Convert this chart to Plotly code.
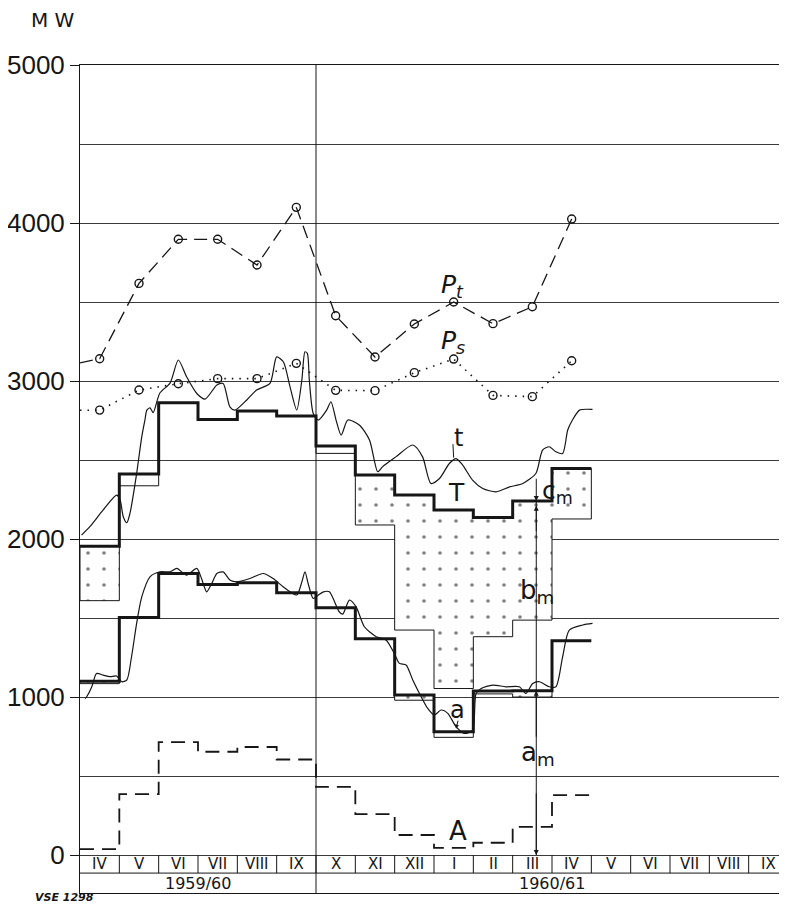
import plotly.graph_objects as go

# ---------------- data ----------------
months = ["IV", "V", "VI", "VII", "VIII", "IX", "X", "XI", "XII", "I", "II", "III",
          "IV", "V", "VI", "VII", "VIII", "IX"]
years = ["1959/60", "1960/61"]
year_first_month = [0, 6]          # index of first month of each year block
year_last_month = [5, 17]

# monthly values, IV 1959/60 ... IV 1960/61 (13 months)
Pt = [3141, 3618, 3897, 3897, 3734, 4099, 3413, 3152, 3361, 3500, 3363, 3470, 4025]
Pt_start = 3115
Ps = [2816, 2943, 2983, 3015, 3015, 3112, 2941, 2939, 3053, 3139, 2909, 2901, 3128]
Ps_start = 2815
T = [1955, 2411, 2862, 2757, 2811, 2778, 2589, 2405, 2278, 2184, 2137, 2241, 2447]
T_low = [1610, 2337, None, None, None, None, 2542, 2089, 1424, 1054, 1382, 1487, 2127]
a_step = [1100, 1504, 1782, 1712, 1723, 1660, 1565, 1369, 1013, 780, 1038, 1040, 1356]
a_low = [1085, None, None, None, None, None, None, None, 980, 745, 1020, 1000, None]
A = [38, 386, 715, 654, 684, 605, 432, 259, 127, 46, 78, 179, 380]

# daily-type curves (month position, MW)
t_x = [0.04, 0.25, 0.59, 0.93, 1.02, 1.10, 1.19, 1.27, 1.44, 1.57, 1.65, 1.70, 1.78, 1.86,
       2.03, 2.29, 2.50, 2.71, 2.97, 3.18, 3.48, 3.64, 3.81, 3.94, 4.24, 4.49, 4.83, 5.00,
       5.17, 5.34, 5.51, 5.64, 5.72, 5.78, 5.83, 5.93, 6.06, 6.27, 6.38, 6.51, 6.64, 6.81,
       7.10, 7.36, 7.57, 7.69, 8.03, 8.46, 8.71, 8.92, 9.14, 9.39, 9.56, 9.73, 9.98, 10.24,
       10.58, 10.92, 11.26, 11.59, 11.76, 11.93, 12.10, 12.27, 12.40, 12.52, 12.70, 13.03]
t_y = [2025, 2078, 2184, 2278, 2247, 2141, 2103, 2162, 2415, 2647, 2753, 2816, 2830, 2800,
       2924, 2987, 3133, 3027, 2921, 2886, 2975, 2985, 2837, 2816, 2880, 2943, 2985, 3153,
       3122, 2963, 2816, 3006, 3185, 3175, 3006, 2795, 2753, 2816, 2869, 2753, 2658, 2753,
       2722, 2627, 2426, 2457, 2520, 2595, 2520, 2352, 2383, 2478, 2509, 2468, 2373, 2320,
       2299, 2330, 2352, 2415, 2563, 2584, 2552, 2541, 2690, 2753, 2816, 2820]
a_x = [0.13, 0.17, 0.30, 0.42, 0.59, 0.76, 0.93, 1.06, 1.19, 1.31, 1.44, 1.57, 1.78, 2.03,
       2.29, 2.46, 2.71, 2.97, 3.09, 3.22, 3.35, 3.48, 3.64, 3.81, 3.98, 4.32, 4.66, 4.91,
       5.17, 5.51, 5.64, 5.72, 5.80, 5.93, 6.06, 6.19, 6.34, 6.59, 6.68, 6.85, 7.02, 7.23,
       7.53, 7.78, 7.99, 8.12, 8.29, 8.46, 8.63, 8.84, 9.01, 9.18, 9.35, 9.56, 9.77, 9.98,
       10.07, 10.20, 10.49, 10.83, 11.17, 11.34, 11.51, 11.68, 11.93, 12.10, 12.27, 12.44,
       12.78, 13.03]
a_y = [990, 1002, 1065, 1149, 1139, 1129, 1133, 1097, 1108, 1255, 1466, 1634, 1761, 1793,
       1793, 1814, 1772, 1814, 1750, 1666, 1719, 1782, 1792, 1741, 1729, 1750, 1782, 1750,
       1697, 1646, 1729, 1793, 1719, 1624, 1646, 1666, 1666, 1540, 1525, 1614, 1571, 1445,
       1382, 1361, 1276, 1213, 1203, 1108, 1023, 928, 886, 918, 897, 813, 770, 791,
       1023, 1054, 1076, 1065, 1065, 1023, 1086, 1097, 1065, 1065, 1255, 1424,
       1456, 1466]

ARROW_MONTH = 11                  # the III column carries the a_m / b_m / c_m dimension

# ---------------- helpers ----------------
n = len(T)
centres = [i + 0.5 for i in range(n)]
step_x = list(range(n)) + [n]


def step_y(vals):
    return list(vals) + [vals[-1]]


def box_polygons(top, low):
    groups, cur = [], []
    for i, v in enumerate(low):
        if v is None:
            if cur:
                groups.append(cur)
                cur = []
        else:
            cur.append(i)
    if cur:
        groups.append(cur)
    polys = []
    for g in groups:
        xs, ys = [], []
        for i in g:
            xs += [i, i + 1]
            ys += [top[i], top[i]]
        for i in reversed(g):
            xs += [i + 1, i]
            ys += [low[i], low[i]]
        xs.append(xs[0])
        ys.append(ys[0])
        polys.append((xs, ys))
    return polys


INK = "#161616"
FONT = "DejaVu Sans"
fig = go.Figure()

pattern = dict(shape=".", fgcolor="#000000", bgcolor="white", size=16, solidity=0.04)
for xs, ys in box_polygons(T, T_low) + box_polygons(a_step, a_low):
    fig.add_trace(go.Scatter(x=xs, y=ys, mode="lines", fill="toself", fillpattern=pattern,
                             fillcolor="white", line=dict(color=INK, width=1),
                             hoverinfo="skip"))

# P_t and P_s
fig.add_trace(go.Scatter(x=[0] + centres, y=[Pt_start] + Pt, mode="lines",
                         line=dict(color=INK, width=1.3, dash="13px,7px")))
fig.add_trace(go.Scatter(x=centres, y=Pt, mode="markers",
                         marker=dict(symbol="circle-open", size=8, color=INK,
                                     line=dict(width=1.4, color=INK))))
fig.add_trace(go.Scatter(x=[0] + centres, y=[Ps_start] + Ps, mode="lines",
                         line=dict(color=INK, width=1.6, dash="1.5px,6px")))
fig.add_trace(go.Scatter(x=centres, y=Ps, mode="markers",
                         marker=dict(symbol="circle-open", size=8, color=INK,
                                     line=dict(width=1.4, color=INK))))

# curves t and a
fig.add_trace(go.Scatter(x=t_x, y=t_y, mode="lines", line_shape="spline",
                         line=dict(color=INK, width=1.2, smoothing=0.7)))
fig.add_trace(go.Scatter(x=a_x, y=a_y, mode="lines", line_shape="spline",
                         line=dict(color=INK, width=1.2, smoothing=0.7)))

# step lines T, a and A
fig.add_trace(go.Scatter(x=step_x, y=step_y(T), mode="lines", line_shape="hv",
                         line=dict(color=INK, width=3)))
fig.add_trace(go.Scatter(x=step_x, y=step_y(a_step), mode="lines", line_shape="hv",
                         line=dict(color=INK, width=3)))
fig.add_trace(go.Scatter(x=step_x, y=step_y(A), mode="lines", line_shape="hv",
                         line=dict(color=INK, width=1.8, dash="14px,8px")))

# dimension line in the III column
xm = ARROW_MONTH + 0.6
fig.add_trace(go.Scatter(x=[xm, xm], y=[0, T[ARROW_MONTH]], mode="lines",
                         line=dict(color=INK, width=1)))

shapes = []
# table: separator between month row and year row
shapes.append(dict(type="line", xref="paper", yref="y", x0=0, x1=1, y0=-114, y1=-114,
                   line=dict(color=INK, width=1)))
for i in range(1, len(months)):
    shapes.append(dict(type="line", xref="x", yref="y", x0=i, x1=i, y0=-114, y1=0,
                       line=dict(color=INK, width=1)))
for f in year_first_month[1:]:
    shapes.append(dict(type="line", xref="x", yref="paper", x0=f, x1=f, y0=0, y1=1,
                       line=dict(color=INK, width=1)))

ann = []
for i, m in enumerate(months):
    ann.append(dict(x=i + 0.5, y=-57, xref="x", yref="y", text=m, showarrow=False,
                    font=dict(family=FONT, size=15, color=INK)))
for yname, f, l in zip(years, year_first_month, year_last_month):
    ann.append(dict(x=(f + l + 1) / 2, y=-177, xref="x", yref="y", text=yname,
                    showarrow=False, font=dict(family=FONT, size=16, color=INK)))

lab = dict(family=FONT, color=INK)
ann += [
    dict(x=9.48, y=3600, text="<i>P<sub>t</sub></i>", showarrow=False, font=dict(size=25, **lab)),
    dict(x=9.48, y=3245, text="<i>P<sub>s</sub></i>", showarrow=False, font=dict(size=25, **lab)),
    dict(x=9.62, y=2640, text="t", showarrow=False, font=dict(size=24, **lab)),
    dict(x=9.56, y=2295, text="T", showarrow=False, font=dict(size=25, **lab)),
    dict(x=12.13, y=2300, text="c<sub>m</sub>", showarrow=False, font=dict(size=25, **lab)),
    dict(x=11.62, y=1670, text="b<sub>m</sub>", showarrow=False, font=dict(size=26, **lab)),
    dict(x=11.64, y=640, text="a<sub>m</sub>", showarrow=False, font=dict(size=26, **lab)),
    dict(x=9.6, y=915, text="a", showarrow=False, font=dict(size=24, **lab)),
    dict(x=9.6, y=150, text="A", showarrow=False, font=dict(size=26, **lab)),
    # leaders
    dict(x=9.50, y=2515, ax=9.48, ay=2610, xref="x", yref="y", axref="x", ayref="y",
         text="", showarrow=True, arrowhead=0, arrowwidth=1, arrowcolor=INK),
    dict(x=9.56, y=800, ax=9.62, ay=860, xref="x", yref="y", axref="x", ayref="y",
         text="", showarrow=True, arrowhead=2, arrowsize=0.8, arrowwidth=1, arrowcolor=INK),
    # dimension arrows
    dict(x=xm, y=0, ax=xm, ay=400, xref="x", yref="y", axref="x", ayref="y", text="",
         showarrow=True, arrowhead=2, arrowsize=1, arrowwidth=1, arrowcolor=INK),
    dict(x=xm, y=a_step[ARROW_MONTH], ax=xm, ay=a_step[ARROW_MONTH] - 300, xref="x", yref="y",
         axref="x", ayref="y", text="", showarrow=True, arrowhead=2, arrowsize=1,
         arrowwidth=1, arrowcolor=INK),
    dict(x=xm, y=T[ARROW_MONTH] - 30, ax=xm, ay=T[ARROW_MONTH] - 200, xref="x", yref="y",
         axref="x", ayref="y", text="", showarrow=True, arrowhead=2, arrowsize=1,
         arrowwidth=1, arrowcolor=INK),
    dict(x=xm, y=T[ARROW_MONTH], ax=xm, ay=T[ARROW_MONTH] + 150, xref="x", yref="y",
         axref="x", ayref="y", text="", showarrow=True, arrowhead=2, arrowsize=1,
         arrowwidth=1, arrowcolor=INK),
    # page texts
    dict(x=-0.072, y=1.054, xref="paper", yref="paper", text="M W", showarrow=False,
         yanchor="middle", font=dict(family=FONT, size=20, color=INK)),
    dict(x=0.984, y=1.054, xref="paper", yref="paper", text="G", showarrow=False,
         xanchor="left", yanchor="middle", font=dict(family=FONT, size=20, color=INK)),
    dict(x=-0.0664, y=-0.005, xref="paper", yref="paper", text="<b><i>VSE 1298</i></b>",
         showarrow=False, xanchor="left", yanchor="middle",
         font=dict(family=FONT, size=11, color=INK)),
]

# the page body adds an 8 px offset; margins compensate so the plot sits at x=80, y=65
fig.update_layout(
    width=780, height=896,
    margin=dict(l=72, r=0, t=57, b=11, autoexpand=False),
    plot_bgcolor="white", paper_bgcolor="white",
    showlegend=False,
    shapes=shapes, annotations=ann,
    xaxis=dict(range=[0, 18], showgrid=False, showticklabels=False, ticks="",
               showline=True, mirror=True, linecolor=INK, linewidth=1, zeroline=False,
               automargin=False),
    yaxis=dict(range=[-240, 5000], tickmode="linear", tick0=0, dtick=1000,
               ticks="outside", ticklen=9, tickcolor=INK, tickwidth=1,
               tickfont=dict(family="Liberation Sans", size=26, color=INK),
               showgrid=True, gridcolor="#3a3a3a", gridwidth=1,
               minor=dict(tick0=0, dtick=500, showgrid=True, gridcolor="#3a3a3a", gridwidth=1),
               showline=True, linecolor=INK, linewidth=1, zeroline=False,
               automargin=False),
)

fig.write_html("out.html")
